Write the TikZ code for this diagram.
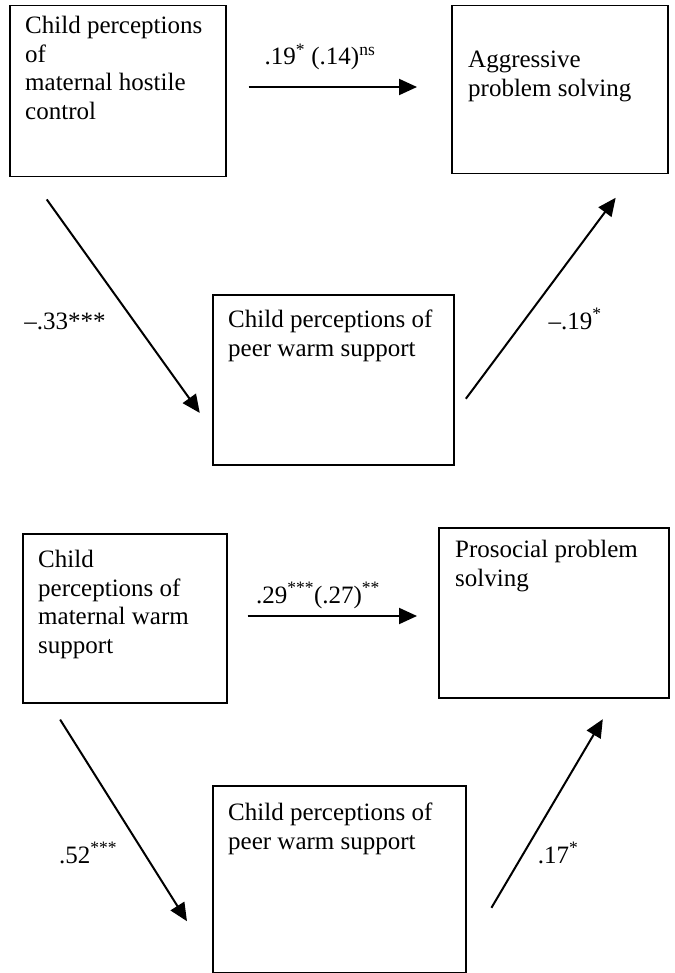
\documentclass[tikz,border=0pt]{standalone}
\usepackage{fontspec}
\setmainfont{Liberation Serif}
\usetikzlibrary{arrows.meta}
\tikzset{
	var/.style={draw=black,line width=1.5pt,anchor=north west,inner sep=0pt},
	vartext/.style={anchor=north west,align=left,inner sep=0pt,font=\fontsize{25}{28.5}\selectfont},
	coef/.style={anchor=base,inner sep=0pt,font=\fontsize{25}{28.5}\selectfont},
	effect/.style={draw=black,line width=2pt,-{Triangle[length=18pt,width=16pt]}},
}

\begin{document}
\begin{tikzpicture}[x=1pt,y=-1pt]
	\useasboundingbox (0,0) rectangle (674,973);
	% hostile control model
	\node[var,minimum width=216pt,minimum height=171pt] (hostile) at (9,5) {};
	\node[var,minimum width=216pt,minimum height=168pt] (aggr) at (451,5) {};
	\node[var,minimum width=241pt,minimum height=170pt] (peerA) at (212,294) {};
	\node[vartext] (hostiletxt) at (25,16) {Child perceptions\\of\\maternal hostile\\control};
	\node[vartext] (aggrtxt) at (468,51) {Aggressive\\problem solving};
	\node[vartext] (peerAtxt) at (228,310) {Child perceptions of\\peer warm support};
	\draw[effect,shorten <=22pt,shorten >=34pt] ([yshift=-82pt]hostile.north east) -- ([yshift=-82pt]aggr.north west);
	\draw[effect,shorten <=27pt,shorten >=21pt] ([xshift=22pt]hostile.south west) -- ([yshift=-136pt]peerA.north west);
	\draw[effect,shorten <=19pt,shorten >=29pt] ([yshift=-120pt]peerA.north east) -- ([xshift=182pt]aggr.south west);
	\node[coef] (cHA) at (320,65) {.19\textsuperscript{*} (.14)\textsuperscript{ns}};
	\node[coef] (cHP) at (65,329) {--.33***};
	\node[coef] (cPA) at (575,329) {--.19\textsuperscript{*}};
	% warm support model
	\node[var,minimum width=204pt,minimum height=169pt] (warm) at (22,533) {};
	\node[var,minimum width=230pt,minimum height=170pt] (prosoc) at (438,527) {};
	\node[var,minimum width=253pt,minimum height=187pt] (peerB) at (212,785) {};
	\node[vartext] (warmtxt) at (38,550) {Child\\perceptions of\\maternal warm\\support};
	\node[vartext] (prosoctxt) at (455,540) {Prosocial problem\\solving};
	\node[vartext] (peerBtxt) at (228,803) {Child perceptions of\\peer warm support};
	\draw[effect,shorten <=20pt,shorten >=21pt] ([yshift=-83pt]warm.north east) -- ([yshift=-89pt]prosoc.north west);
	\draw[effect,shorten <=19pt,shorten >=47pt] ([xshift=28pt]warm.south west) -- ([yshift=-176pt]peerB.north west);
	\draw[effect,shorten <=49pt,shorten >=24pt] ([yshift=-165pt]peerB.north east) -- ([xshift=177pt]prosoc.south west);
	\node[coef] (cWP) at (318,603) {.29\textsuperscript{***}(.27)\textsuperscript{**}};
	\node[coef] (cWB) at (88,863) {.52\textsuperscript{***}};
	\node[coef] (cBP) at (558,863) {.17\textsuperscript{*}};
\end{tikzpicture}
\end{document}
